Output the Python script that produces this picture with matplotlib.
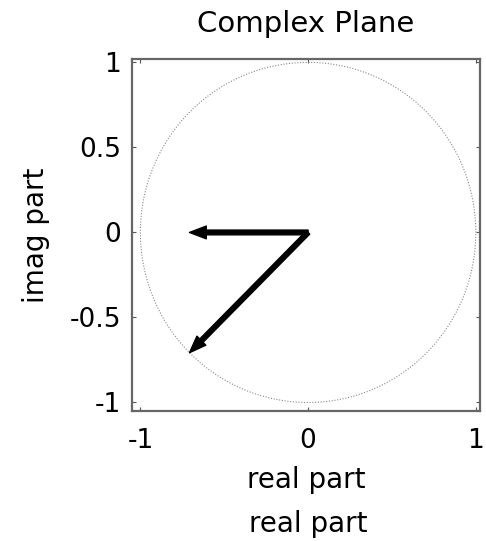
import numpy as np
import matplotlib

matplotlib.use("Agg")
import matplotlib.pyplot as plt

# complex number shown and its real part
z_real = [-0.7071, -0.7071]
z_imag = [0.0, -0.7071]
x_ticks = [-1, 0, 1]
y_ticks = [-1, -0.5, 0, 0.5, 1]
y_tick_labels = ["-1", "-0.5", "0", "0.5", "1"]

plt.rcParams["font.family"] = ["DejaVu Sans"]

fig = plt.figure(figsize=(4.86, 5.41), dpi=100)
ax = fig.add_axes([132 / 486, 1 - 411 / 541, 348 / 486, 352 / 541])

theta = np.linspace(0, 2 * np.pi, 400)
ax.plot(np.cos(theta), np.sin(theta), linestyle=(0, (1, 1.5)), color="#888888", lw=0.8)

for xr, yi in zip(z_real, z_imag):
    ax.arrow(0, 0, xr, yi, width=0.028, head_width=0.075, head_length=0.1,
             length_includes_head=True, fc="black", ec="black", lw=1,
             joinstyle="round", zorder=3)

ax.set_xlim(-1.05, 1.025)
ax.set_ylim(-1.05, 1.02)
ax.set_xticks(x_ticks)
ax.set_xticklabels([str(t) for t in x_ticks])
ax.set_yticks(y_ticks)
ax.set_yticklabels(y_tick_labels)
ax.tick_params(direction="in", length=3, width=0.8, labelsize=19,
               top=True, right=True, colors="#555555", labelcolor="black")
ax.tick_params(axis="x", pad=12)
ax.tick_params(axis="y", pad=8)
for spine in ax.spines.values():
    spine.set_linewidth(1.6)
    spine.set_color("#666666")

ax.set_title("Complex Plane", fontsize=21, pad=19.5)
ax.set_xlabel("real part", fontsize=20)
ax.set_ylabel("imag part", fontsize=20)
ax.xaxis.set_label_coords(0.5, -0.156)
ax.yaxis.set_label_coords(-0.235, 0.5)
fig.text(308 / 486, 1 - 532 / 541, "real part", fontsize=20, ha="center", va="baseline")

fig.savefig("out.png", dpi=100)
